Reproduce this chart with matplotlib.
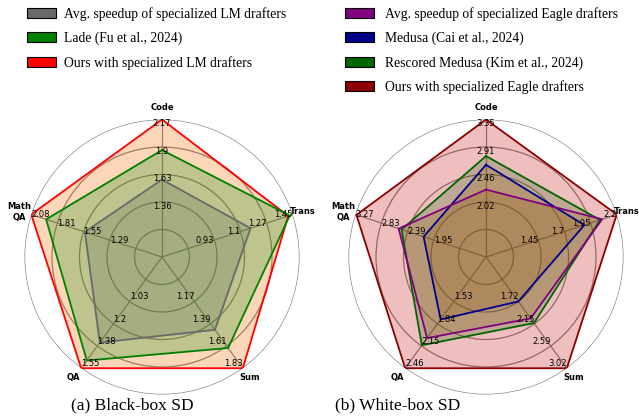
import matplotlib
matplotlib.use('Agg')
import matplotlib.pyplot as plt
from matplotlib.patches import Patch
import numpy as np

# axes order, clockwise from the top
categories = ['Code', 'Trans', 'Sum', 'QA', 'Math\nQA']

# black-box SD
ticks_black = [[1.36, 1.63, 1.9, 2.17],
               [0.93, 1.1, 1.27, 1.45],
               [1.17, 1.39, 1.61, 1.83],
               [1.03, 1.2, 1.38, 1.55],
               [1.29, 1.55, 1.81, 2.08]]
avg_lm = [1.58, 1.17, 1.45, 1.35, 1.54]
lade = [1.87, 1.43, 1.63, 1.49, 1.93]
ours_lm = [2.17, 1.42, 1.83, 1.55, 2.08]

# white-box SD
ticks_white = [[2.02, 2.46, 2.91, 3.35],
               [1.45, 1.7, 1.95, 2.2],
               [1.72, 2.15, 2.59, 3.02],
               [1.53, 1.84, 2.15, 2.46],
               [1.95, 2.39, 2.83, 3.27]]
avg_eagle = [2.22, 2.06, 2.05, 2.04, 2.54]
medusa = [2.62, 1.89, 1.72, 1.78, 2.12]
rescored = [2.76, 2.04, 2.14, 2.14, 2.49]
ours_eagle = [3.35, 2.2, 3.02, 2.46, 3.25]

plt.rcParams['font.family'] = 'DejaVu Sans'

# label anchors for each spoke (tick text sits on the inner side)
tick_align = [('center', 'top'), ('right', 'center'), ('right', 'bottom'),
              ('left', 'bottom'), ('left', 'center')]
cat_style = [dict(xytext=(0, 8.5), ha='center', va='center'),
             dict(xytext=(-1.8, 2.5), ha='left', va='center'),
             dict(xytext=(-2.5, -3.6), ha='left', va='top'),
             dict(xytext=(-1, -3.6), ha='right', va='top'),
             dict(xytext=(0, 1.8), ha='right', va='center')]

n = len(categories)
angles = np.arange(n) * 2 * np.pi / n


def scale(values, ticks):
    # every spoke has its own scale: 5 rings, ticks on rings 2..5
    out = []
    for v, t in zip(values, ticks):
        step = (t[-1] - t[0]) / 3
        v0 = t[0] - 2 * step
        out.append((v - v0) / step)
    out.append(out[0])
    return out


def radar(ax, ticks, series):
    ax.set_theta_offset(np.pi / 2)
    ax.set_theta_direction(-1)
    ax.set_ylim(0, 5)
    ax.set_rgrids([1, 2, 3, 4, 5], labels=[''] * 5)
    ax.set_thetagrids(np.degrees(angles), labels=[''] * n)
    ax.grid(color='#7f7f7f', linewidth=0.9)
    ax.spines['polar'].set_visible(False)
    ax.set_facecolor('none')
    theta = np.append(angles, angles[0])
    for values, line_color, fill_color, alpha in series:
        r = scale(values, ticks)
        ax.fill(theta, r, color=fill_color, alpha=alpha, linewidth=0, zorder=2)
        ax.plot(theta, r, color=line_color, linewidth=1.3, zorder=3)
    for i in range(n):
        ha, va = tick_align[i]
        for k, t in enumerate(ticks[i]):
            ax.text(angles[i], k + 2, '{}'.format(t), ha=ha, va=va,
                    fontsize=6, zorder=4)
        ax.annotate(categories[i], xy=(angles[i], 5), textcoords='offset points',
                    fontsize=6, fontweight='bold', multialignment='center',
                    annotation_clip=False, **cat_style[i])


fig = plt.figure(figsize=(6.39, 4.18), dpi=100)
ax1 = fig.add_axes([24.5 / 639, 23.5 / 418, 275 / 639, 275 / 418], polar=True)
ax2 = fig.add_axes([348.5 / 639, 23.5 / 418, 275 / 639, 275 / 418], polar=True)

# drawn largest first so the smaller fills sit on top
radar(ax1, ticks_black, [
    (ours_lm, 'red', (0.96, 0.47, 0.08), 0.3),
    (lade, 'green', (0.05, 0.55, 0.06), 0.25),
    (avg_lm, 'dimgray', (0.33, 0.45, 0.36), 0.25),
])
radar(ax2, ticks_white, [
    (ours_eagle, 'darkred', (0.80, 0.18, 0.18), 0.3),
    (rescored, 'darkgreen', (0.19, 0.41, 0.09), 0.25),
    (medusa, 'darkblue', (0.58, 0.32, 0.0), 0.2),
    (avg_eagle, 'purple', (0.58, 0.32, 0.0), 0.2),
])

leg_font = {'family': 'Liberation Serif', 'size': 9.8}
leg_kw = dict(loc='upper left', frameon=False, prop=leg_font, borderpad=0,
              borderaxespad=0, handlelength=2.15, handleheight=0.75,
              labelspacing=0.8)

h1 = [Patch(facecolor='dimgray', edgecolor='black', linewidth=0.8),
      Patch(facecolor='green', edgecolor='black', linewidth=0.8),
      Patch(facecolor='red', edgecolor='black', linewidth=0.8)]
fig.legend(h1, ['Avg. speedup of specialized LM drafters',
                'Lade (Fu et al., 2024)',
                'Ours with specialized LM drafters'],
           bbox_to_anchor=(27 / 639, 1 - 7 / 418), handletextpad=0.55, **leg_kw)

h2 = [Patch(facecolor='purple', edgecolor='black', linewidth=0.8),
      Patch(facecolor='darkblue', edgecolor='black', linewidth=0.8),
      Patch(facecolor='darkgreen', edgecolor='black', linewidth=0.8),
      Patch(facecolor='darkred', edgecolor='black', linewidth=0.8)]
fig.legend(h2, ['Avg. speedup of specialized Eagle drafters',
                'Medusa (Cai et al., 2024)',
                'Rescored Medusa (Kim et al., 2024)',
                'Ours with specialized Eagle drafters'],
           bbox_to_anchor=(345 / 639, 1 - 7 / 418), handletextpad=0.78, **leg_kw)

fig.text(132.5 / 639, 1 - 405 / 418, '(a) Black-box SD', ha='center', va='center',
         family='Liberation Serif', fontsize=12.5)
fig.text(398 / 639, 1 - 405 / 418, '(b) White-box SD', ha='center', va='center',
         family='Liberation Serif', fontsize=12.5)

fig.savefig('out.png', dpi=100)
